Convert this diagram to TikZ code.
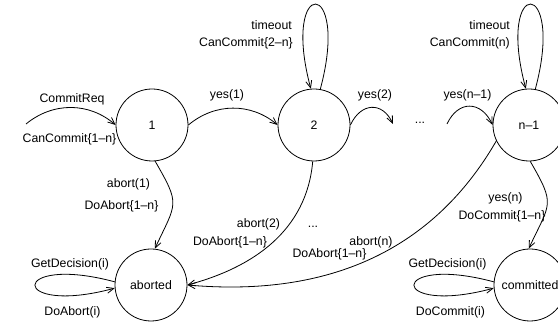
\documentclass[tikz,border=0pt]{standalone}
\usepackage{fontspec}
\setmainfont{Liberation Sans}
\usetikzlibrary{arrows.meta}
\begin{document}
\begin{tikzpicture}[x=1pt,y=1pt,
  every node/.style={font=\fontsize{12.3}{14}\selectfont},
  state/.style={draw, circle, minimum size=72pt, inner sep=0pt, line width=0.8pt},
  lbl/.style={anchor=base, inner sep=0pt},
  arr/.style={line width=0.8pt, -{Straight Barb[length=7pt,width=6pt]}}]
\path[use as bounding box, clip] (0,0) rectangle (558,323);
% states
\node[state] (n1) at (152,198) {1};
\node[state] (n2) at (314,198) {2};
\node[state] (nn) at (529,198) {n–1};
\node[state] (ab) at (151,38) {aborted};
\node[state] (co) at (530,38) {committed};
% free ends
\coordinate (cr) at (26,199);
\coordinate (y2e) at (393,199);
\coordinate (yn1s) at (447,199);
% connectors
\draw[arr] (cr) to[bend left=40] (n1.west);
\draw[arr] (n1.east) to[bend left=40] (n2.west);
\draw[arr] (n2.east) to[out=65,in=115,looseness=1.5] (y2e);
\draw[arr] (yn1s) to[out=65,in=115,looseness=1.5] (nn.west);
\draw[arr] (n2.80) .. controls +(75:117) and +(105:117) .. (n2.95);
\draw[arr] (nn.80) .. controls +(75:117) and +(105:117) .. (nn.95);
\draw[arr] (n1.-85) to[out=-60,in=65,looseness=1.5] (ab.84);
\draw[arr] (n2.-92) to[out=-95,in=15] (ab.east);
\draw[arr] (nn.206) to[out=240,in=-5] (ab.east);
\draw[arr] (nn.-88) to[out=-60,in=65,looseness=1.5] (co.92);
\draw[arr] (ab.175) .. controls +(165:110) and +(195:110) .. (ab.185);
\draw[arr] (co.175) .. controls +(165:110) and +(195:110) .. (co.185);
% labels
\node[lbl] (lcr1) at (72,220) {CommitReq};
\node[lbl] (lcr2) at (69.5,180.5) {CanCommit\{1–n\}};
\node[lbl] (ly1) at (227,224.7) {yes(1)};
\node[lbl, anchor=base east] (lt2) at (292,293.7) {timeout};
\node[lbl, anchor=base east] (lc2) at (293,276) {CanCommit\{2–n\}};
\node[lbl] (ly2) at (375,224) {yes(2)};
\node[lbl] (ld1) at (420,199) {...};
\node[lbl] (lyn1) at (467.5,224) {yes(n–1)};
\node[lbl, anchor=base east] (ltn) at (510,293.7) {timeout};
\node[lbl, anchor=base east] (lcn) at (510,276) {CanCommit(n)};
\node[lbl] (la1) at (128.5,135.3) {abort(1)};
\node[lbl] (lda1) at (121.5,113) {DoAbort\{1–n\}};
\node[lbl] (la2) at (258.5,95) {abort(2)};
\node[lbl] (lda2) at (230,77) {DoAbort\{1–n\}};
\node[lbl] (ld2) at (313,95) {...};
\node[lbl] (lan) at (371,77) {abort(n)};
\node[lbl] (ldan) at (329.5,65) {DoAbort\{1–n\}};
\node[lbl] (lyn) at (505.5,121) {yes(n)};
\node[lbl] (ldc) at (502,103) {DoCommit\{1–n\}};
\node[lbl] (lgd1) at (70,55) {GetDecision(i)};
\node[lbl] (ldai) at (72.5,7) {DoAbort(i)};
\node[lbl] (lgd2) at (447.5,55) {GetDecision(i)};
\node[lbl] (ldci) at (450.5,7) {DoCommit(i)};
\end{tikzpicture}
\end{document}
